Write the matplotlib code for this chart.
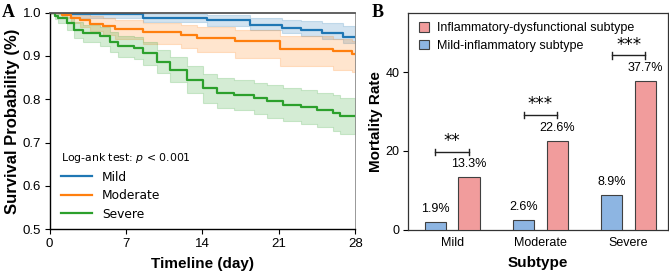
import matplotlib

matplotlib.use("Agg")
import matplotlib.pyplot as plt
import numpy as np

plt.rcParams["font.family"] = ["Liberation Sans", "DejaVu Sans"]

# --- Panel A: Kaplan-Meier curves (step points) ---
mild_t = [0, 2.0, 8.6, 14.4, 18.4, 21.3, 23.0, 25.0, 26.9, 28]
mild_s = [1.0, 0.996, 0.988, 0.982, 0.972, 0.965, 0.961, 0.953, 0.944, 0.944]
mild_lo = [1.0, 0.988, 0.978, 0.970, 0.960, 0.953, 0.947, 0.939, 0.930, 0.930]
mild_hi = [1.0, 1.0, 0.997, 0.994, 0.988, 0.984, 0.980, 0.975, 0.968, 0.968]

mod_t = [0, 1.1, 2.0, 2.8, 3.7, 4.9, 6.0, 8.6, 12.0, 13.5, 17.0, 21.1, 26.0, 27.7, 28]
mod_s = [1.0, 0.995, 0.987, 0.982, 0.974, 0.968, 0.962, 0.955, 0.948, 0.942,
         0.934, 0.917, 0.912, 0.905, 0.905]
mod_lo = [1.0, 0.988, 0.975, 0.967, 0.957, 0.948, 0.940, 0.928, 0.918, 0.910,
          0.895, 0.876, 0.868, 0.862, 0.862]
mod_hi = [1.0, 1.0, 1.0, 0.997, 0.993, 0.988, 0.983, 0.977, 0.971, 0.966,
          0.959, 0.945, 0.940, 0.934, 0.934]

sev_t = [0, 0.5, 0.8, 1.6, 2.2, 3.1, 4.6, 5.5, 6.3, 7.7, 8.6, 9.8, 11.0, 12.6,
         14.1, 15.3, 16.9, 18.7, 19.9, 21.4, 23.0, 24.5, 26.0, 26.6, 28]
sev_s = [1.0, 0.993, 0.987, 0.975, 0.960, 0.952, 0.945, 0.933, 0.922, 0.918,
         0.906, 0.887, 0.868, 0.845, 0.825, 0.814, 0.810, 0.802, 0.795, 0.787,
         0.783, 0.775, 0.768, 0.762, 0.762]
sev_lo = [1.0, 0.986, 0.976, 0.960, 0.942, 0.932, 0.924, 0.910, 0.898, 0.893,
          0.880, 0.860, 0.839, 0.814, 0.792, 0.780, 0.775, 0.766, 0.758, 0.749,
          0.744, 0.735, 0.727, 0.720, 0.720]
sev_hi = [1.0, 0.999, 0.997, 0.990, 0.978, 0.971, 0.966, 0.956, 0.946, 0.943,
          0.932, 0.914, 0.897, 0.876, 0.858, 0.848, 0.845, 0.838, 0.832, 0.825,
          0.822, 0.815, 0.809, 0.804, 0.804]

groups = ["Mild", "Moderate", "Severe"]
group_colors = ["#1f77b4", "#ff7f0e", "#2ca02c"]

# --- Panel B: mortality by subtype ---
subtypes = ["Mild", "Moderate", "Severe"]
mild_inflam = [1.9, 2.6, 8.9]
inflam_dysf = [13.3, 22.6, 37.7]
sig_marks = ["**", "***", "***"]

fig = plt.figure(figsize=(6.69, 2.74), dpi=100)
ax1 = fig.add_axes([0.074, 0.163, 0.457, 0.791])
ax2 = fig.add_axes([0.610, 0.161, 0.389, 0.792])

curves = [
    (mild_t, mild_s, mild_lo, mild_hi),
    (mod_t, mod_s, mod_lo, mod_hi),
    (sev_t, sev_s, sev_lo, sev_hi),
]
for (t, s, lo, hi), name, col in zip(curves, groups, group_colors):
    ax1.fill_between(t, lo, hi, step="post", color=col, alpha=0.2, lw=0.8)
    ax1.step(t, s, where="post", color=col, lw=1.6, label=name)

ax1.set_xlim(0, 28)
ax1.set_ylim(0.5, 1.0)
ax1.set_xticks([0, 7, 14, 21, 28])
ax1.set_yticks([0.5, 0.6, 0.7, 0.8, 0.9, 1.0])
ax1.tick_params(labelsize=9.5, length=3.5, width=0.8, pad=2.5)
ax1.set_xlabel("Timeline (day)", fontsize=11, fontweight="bold", labelpad=5)
ax1.set_ylabel("Survival Probability (%)", fontsize=12, fontweight="bold", labelpad=2)
for side in ["left", "bottom"]:
    ax1.spines[side].set_color("black")
    ax1.spines[side].set_linewidth(1.0)
ax1.spines["top"].set_color("#555555")
ax1.spines["top"].set_linewidth(1.3)
ax1.spines["right"].set_color("#888888")
ax1.spines["right"].set_linewidth(0.6)
leg1 = ax1.legend(
    loc="lower left",
    bbox_to_anchor=(0.0, -0.01),
    frameon=False,
    title="Log-ank test: $p$ < 0.001",
    title_fontsize=7.8,
    handlelength=2.6,
    labelspacing=0.45,
    alignment="left",
    prop={"family": "DejaVu Sans", "size": 8.8},
)
leg1.get_title().set_family("DejaVu Sans")

# bars
x = np.arange(len(subtypes))
off, w = 0.19, 0.24
ax2.bar(x - off, mild_inflam, w, color="#8db5e2", edgecolor="#404040", lw=0.8,
        label="Mild-inflammatory subtype", zorder=3)
ax2.bar(x + off, inflam_dysf, w, color="#f19c9c", edgecolor="#404040", lw=0.8,
        label="Inflammatory-dysfunctional subtype", zorder=3)
for xi, v in zip(x - off, mild_inflam):
    ax2.annotate(f"{v}%", (xi, v), xytext=(0, 5), textcoords="offset points",
                 ha="center", va="bottom", fontsize=9)
for xi, v in zip(x + off, inflam_dysf):
    ax2.annotate(f"{v}%", (xi, v), xytext=(0, 5), textcoords="offset points",
                 ha="center", va="bottom", fontsize=9)
for xi, v, mark in zip(x, inflam_dysf, sig_marks):
    yb = v + 6.5
    ax2.plot([xi - off, xi + off], [yb, yb], color="#222222", lw=1.0)
    ax2.plot([xi - off, xi - off], [yb - 0.8, yb + 0.8], color="#222222", lw=1.0)
    ax2.plot([xi + off, xi + off], [yb - 0.8, yb + 0.8], color="#222222", lw=1.0)
    ax2.text(xi, yb + 0.4, mark, ha="center", va="bottom", fontsize=12,
             family="DejaVu Sans")

ax2.set_xlim(-0.5, 2.45)
ax2.set_ylim(0, 55)
ax2.set_xticks(x)
ax2.set_xticklabels(subtypes)
ax2.set_yticks([0, 20, 40])
ax2.tick_params(axis="y", labelsize=9, length=3.5, width=0.8, pad=2.5)
ax2.tick_params(axis="x", labelsize=9, length=0, pad=5)
ax2.set_xlabel("Subtype", fontsize=11, fontweight="bold", labelpad=5)
ax2.set_ylabel("Mortality Rate", fontsize=11, fontweight="bold", labelpad=2)
for sp in ax2.spines.values():
    sp.set_color("#333333")
    sp.set_linewidth(0.9)
h, l = ax2.get_legend_handles_labels()
ax2.legend(h[::-1], l[::-1], loc="upper left", bbox_to_anchor=(0.0, 1.01),
           frameon=False, fontsize=9, handlelength=0.8, handleheight=0.8,
           labelspacing=0.45, handletextpad=0.6)

fig.text(0.003, 0.955, "A", fontsize=13, fontweight="bold",
         family="Liberation Serif", va="center")
fig.text(0.555, 0.955, "B", fontsize=13, fontweight="bold",
         family="Liberation Serif", va="center")

fig.savefig("out.png", dpi=100)
